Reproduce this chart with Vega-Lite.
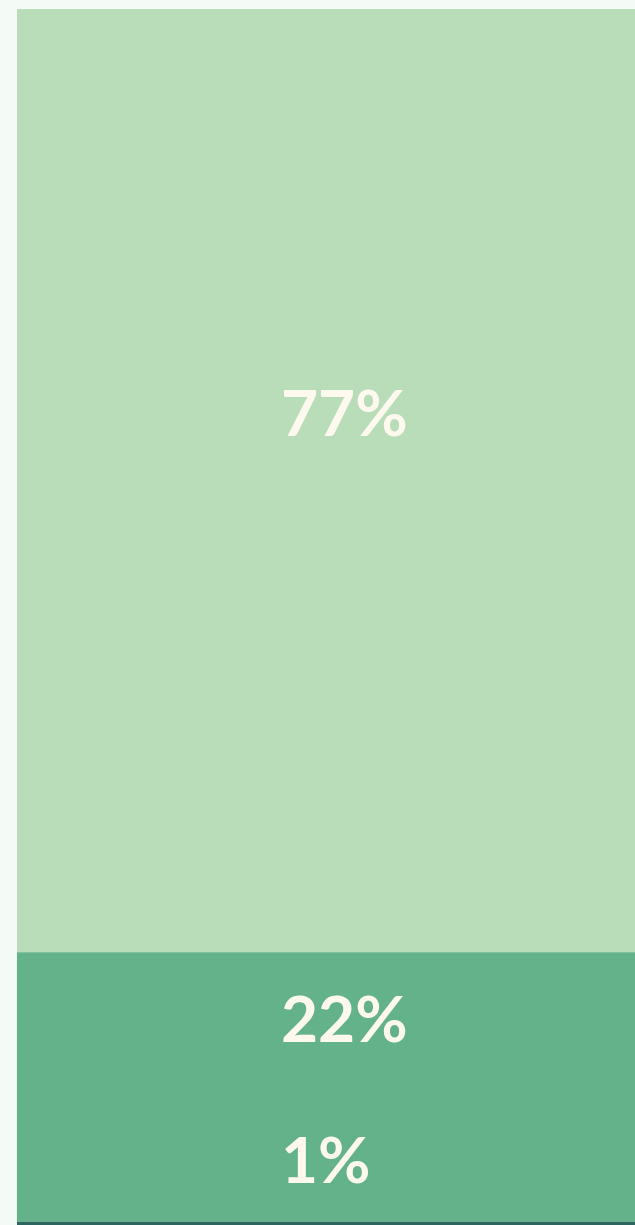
{
  "$schema": "https://vega.github.io/schema/vega-lite/v6.json",
  "width": 640,
  "height": 1225,
  "padding": {"left": 17, "top": 9, "right": 0, "bottom": 0},
  "background": "#f4faf6",
  "config": {"view": {"stroke": null}},
  "data": {
    "values": [
      {"group": "A", "value": 77, "label": "77%", "rank": 3},
      {"group": "B", "value": 22, "label": "22%", "rank": 2},
      {"group": "C", "value": 1, "label": "1%", "rank": 1}
    ]
  },
  "transform": [
    {"stack": "value", "sort": [{"field": "rank", "order": "ascending"}], "groupby": [], "as": ["y0", "y1"]},
    {"calculate": "(datum.y0 + datum.y1) / 2", "as": "mid"}
  ],
  "encoding": {
    "x": {"datum": "all", "type": "nominal", "scale": {"paddingInner": 0, "paddingOuter": 0}, "axis": null}
  },
  "layer": [
    {
      "mark": {"type": "bar", "stroke": null, "width": {"band": 1}},
      "encoding": {
        "y": {"field": "y0", "type": "quantitative", "scale": {"domain": [0, 100], "nice": false, "zero": false}, "axis": null},
        "y2": {"field": "y1"},
        "color": {
          "field": "group",
          "type": "nominal",
          "scale": {"domain": ["A", "B", "C"], "range": ["#b9ddb9", "#64b28a", "#2d6560"]},
          "legend": null
        }
      }
    },
    {
      "mark": {"type": "text", "align": "left", "baseline": "middle", "dx": -56, "dy": -64, "font": "Lato", "fontWeight": "bold", "fontSize": 64, "color": "#fdf9ef"},
      "encoding": {
        "y": {"field": "mid", "type": "quantitative"},
        "text": {"field": "label", "type": "nominal"}
      }
    }
  ]
}
